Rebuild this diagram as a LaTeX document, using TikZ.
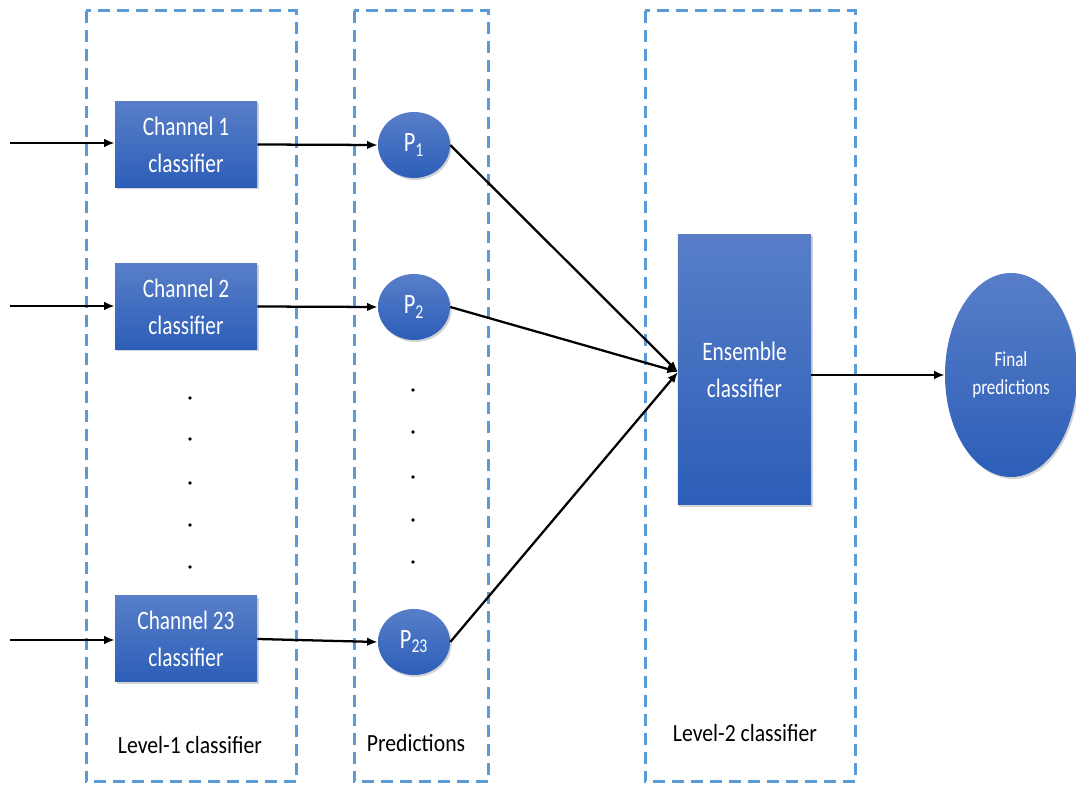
\documentclass[tikz,border=0pt]{standalone}
\usepackage{fontspec}
\setmainfont{Carlito}
\newfontfamily\narrowfont[FakeStretch=0.8]{Carlito}
\newfontfamily\labelfont[FakeStretch=0.88]{Carlito}
\usetikzlibrary{arrows.meta,shadows,shapes.geometric}
\definecolor{dashblue}{HTML}{5B9BD5}
\definecolor{boxtop}{RGB}{88,126,200}
\definecolor{boxbot}{RGB}{44,94,184}
\tikzset{
  groupbox/.style={draw=dashblue, line width=2.25pt, dash pattern=on 9pt off 5.25pt},
  bluefill/.style={top color=boxtop, bottom color=boxbot, text=white, align=center,
    drop shadow={opacity=0.35, shadow xshift=1.2pt, shadow yshift=-1.5pt}},
  chanbox/.style={rectangle, bluefill, minimum width=106.5pt, minimum height=64.5pt, inner sep=0pt,
    font=\narrowfont\fontsize{20}{27.75}\selectfont},
  pnode/.style={ellipse, bluefill, minimum width=54pt, minimum height=49.5pt, inner sep=0pt,
    font=\narrowfont\fontsize{21}{25}\selectfont},
  ensbox/.style={rectangle, bluefill, minimum width=100pt, minimum height=203pt, inner sep=0pt,
    font=\narrowfont\fontsize{20}{27.75}\selectfont},
  finalnode/.style={ellipse, bluefill, minimum width=99pt, minimum height=153pt, inner sep=0pt,
    font=\narrowfont\fontsize{16}{21}\selectfont},
  grouplabel/.style={text=black, font=\labelfont\fontsize{18.5}{22}\selectfont},
  arr/.style={-{Latex[length=8pt,width=6.5pt]}, line width=1.7pt, black},
  dotmark/.style={fill=black}
}
\begin{document}
\begin{tikzpicture}[x=0.75pt,y=-0.75pt]
\useasboundingbox (0,0) rectangle (1076,787);

% group boxes
\draw[groupbox] (86,11) rectangle (296,782);
\draw[groupbox] (354,11) rectangle (488,782);
\draw[groupbox] (645,11) rectangle (855,782);

% channel classifiers
\node[chanbox] (c1) at (186,144.5) {Channel 1\\classifier};
\node[chanbox] (c2) at (186,306.5) {Channel 2\\classifier};
\node[chanbox] (c23) at (186,639) {Channel 23\\classifier};

% predictions
\node[pnode] (p1) at (414,145) {P\textsubscript{1}};
\node[pnode] (p2) at (414,307) {P\textsubscript{2}};
\node[pnode] (p23) at (414,642) {P\textsubscript{23}};

% ensemble and final
\node[ensbox] (ens) at (744.5,369.5) {Ensemble\\classifier};
\node[finalnode] (fin) at (1011,375) {Final\\predictions};

% labels
\node[grouplabel] (l1) at (190,745) {Level-1 classifier};
\node[grouplabel] (l2) at (416,743) {Predictions};
\node[grouplabel] (l3) at (745,733) {Level-2 classifier};

% input coordinates
\coordinate (in1) at (10,143);
\coordinate (in2) at (10,306);
\coordinate (in23) at (10,640);

% arrows
\draw[arr] (in1) -- (c1.west |- in1);
\draw[arr] (in2) -- (c2.west |- in2);
\draw[arr] (in23) -- (c23.west |- in23);
\draw[arr] (c1.east) -- (p1.west);
\draw[arr] (c2.east) -- (p2.west);
\draw[arr] (c23.east) -- (p23.west);
\coordinate (conv) at (678,372);
\draw[arr] (p1.east) -- (conv);
\draw[arr] (p2.east) -- (conv);
\draw[arr] (p23.east) -- (conv);
\draw[arr] (ens.east |- fin.west) -- (fin.west);

% vertical dots
\foreach \y in {398,439,483,525,567} \fill[dotmark] (190,\y) circle (1.8);
\foreach \y in {390,432,477,520,562} \fill[dotmark] (413,\y) circle (1.8);
\end{tikzpicture}
\end{document}
